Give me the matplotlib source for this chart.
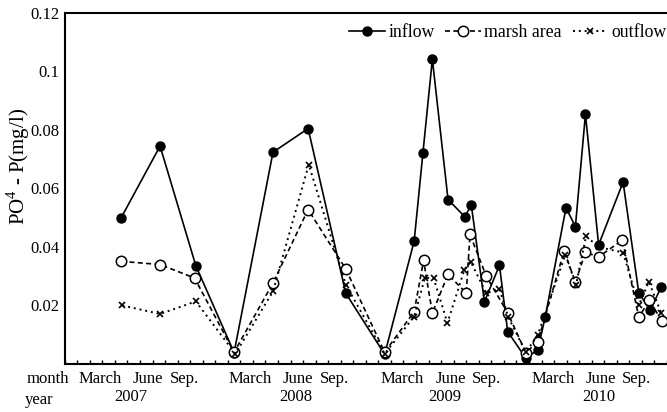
import matplotlib
matplotlib.use('Agg')
from matplotlib import pyplot as plt

plt.rcParams['font.family'] = ['Liberation Serif', 'DejaVu Serif']
plt.rcParams['mathtext.fontset'] = 'custom'
plt.rcParams['mathtext.rm'] = 'Liberation Serif'

# x = months counted from Jan 2007
inflow_x = [4.5, 7.6, 10.45, 13.5, 16.6, 19.4, 22.4, 25.5, 27.85, 28.55, 29.3, 30.55, 31.9, 32.4,
            33.45, 34.65, 35.3, 36.75, 37.7, 38.3, 39.95, 40.7, 41.5, 42.55, 44.5, 45.75, 46.65, 47.55]
inflow = [0.050, 0.0745, 0.0336, 0.0039, 0.0724, 0.0805, 0.0242, 0.0033, 0.042, 0.0722, 0.1042, 0.0562,
          0.0503, 0.0545, 0.0213, 0.0337, 0.0111, 0.0020, 0.0048, 0.0162, 0.0534, 0.0470, 0.0854, 0.0407,
          0.0622, 0.0244, 0.0183, 0.0264]

marsh_x = [4.5, 7.6, 10.35, 13.5, 16.6, 19.4, 22.4, 25.5, 27.85, 28.6, 29.3, 30.55, 32.0, 32.3,
           33.6, 35.3, 36.75, 37.7, 39.8, 40.7, 41.5, 42.55, 44.45, 45.75, 46.6, 47.6]
marsh = [0.0351, 0.034, 0.0294, 0.004, 0.0277, 0.0528, 0.0325, 0.004, 0.0179, 0.0354, 0.0174, 0.0307,
         0.0242, 0.0443, 0.030, 0.0175, 0.0039, 0.0076, 0.0386, 0.0280, 0.0382, 0.0366, 0.0424, 0.016,
         0.0218, 0.0146]

outflow_x = [4.6, 7.6, 10.45, 13.6, 16.6, 19.45, 22.4, 25.5, 27.85, 28.7, 29.4, 30.5, 31.85, 32.35,
             33.6, 34.65, 35.35, 36.75, 37.7, 39.9, 40.75, 41.55, 42.55, 44.5, 45.75, 46.55, 47.55]
outflow = [0.020, 0.0171, 0.0214, 0.0035, 0.0248, 0.0682, 0.0271, 0.0035, 0.0162, 0.0294, 0.0294, 0.0140,
           0.0322, 0.0350, 0.0242, 0.0256, 0.0160, 0.0040, 0.0099, 0.0374, 0.0271, 0.0437, 0.040, 0.0381,
           0.0201, 0.0281, 0.0174]

month_names = ['March', 'June', 'Sep.'] * 4
month_pos = [2.8, 6.6, 9.55, 14.75, 18.55, 21.5, 26.9, 30.75, 33.65, 38.9, 42.7, 45.6]
years = ['2007', '2008', '2009', '2010']
year_pos = [5.25, 18.4, 30.3, 42.55]
yticks = [0.02, 0.04, 0.06, 0.08, 0.1, 0.12]

fig = plt.figure(figsize=(6.67, 4.12), dpi=100)
ax = fig.add_axes([0.097, 0.1165, 0.903, 0.852])

ax.plot(inflow_x, inflow, '-', color='black', lw=1.2, marker='o', ms=6.5,
        mfc='black', mec='black', label='inflow')
ax.plot(marsh_x, marsh, color='black', lw=1.2, ls=(0, (3, 2)), marker='o', ms=7.5,
        mfc='white', mec='black', mew=1.1, label='marsh area')
ax.plot(outflow_x, outflow, color='black', lw=1.4, ls=(0, (1, 2)), marker='x', ms=5,
        mec='black', mew=1.2, label='outflow')

ax.set_xlim(0, 48)
ax.set_ylim(0, 0.12)
ax.set_xticks(range(0, 49))
ax.set_xticklabels([])
ax.tick_params(axis='x', direction='in', length=3, width=1)
ax.set_yticks(yticks)
ax.set_yticklabels(['0.02', '0.04', '0.06', '0.08', '0.1', '0.12'])
ax.tick_params(axis='y', length=0, labelsize=12, pad=4)
ax.spines['right'].set_visible(False)
for s in ['left', 'bottom', 'top']:
    ax.spines[s].set_linewidth(1.5)

tr = ax.get_xaxis_transform()
for name, x in zip(month_names, month_pos):
    ax.text(x, -0.043, name, transform=tr, ha='center', va='center', fontsize=12, clip_on=False)
for name, x in zip(years, year_pos):
    ax.text(x, -0.094, name, transform=tr, ha='center', va='center', fontsize=12, clip_on=False)
ax.text(-1.33, -0.043, 'month', transform=tr, ha='center', va='center', fontsize=12, clip_on=False)
ax.text(-3.16, -0.103, 'year', transform=tr, ha='left', va='center', fontsize=12, clip_on=False)

fig.text(18 / 667, 1 - 166 / 412, 'PO$^4$ - P(mg/l)', rotation=90, ha='center', va='center', fontsize=15)

ax.legend(loc='upper right', bbox_to_anchor=(1.0, 0.968), ncol=3, frameon=False, fontsize=12.8,
          handlelength=2.0, handletextpad=0.2, columnspacing=0.6, borderaxespad=0, borderpad=0)

fig.savefig('out.png', dpi=100)
